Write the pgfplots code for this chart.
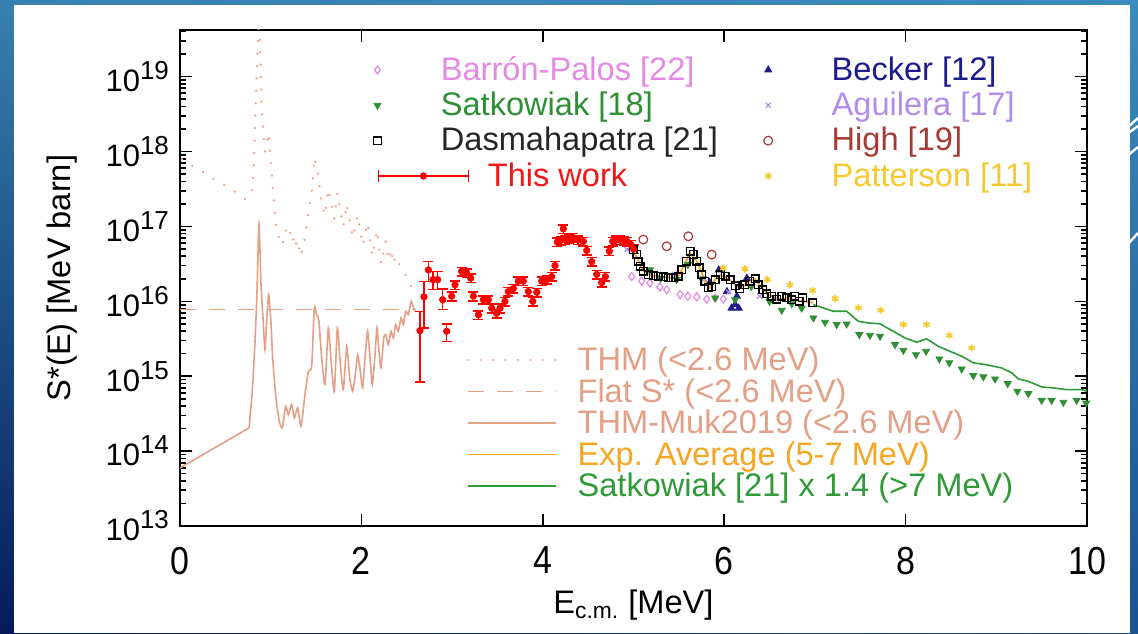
\documentclass[border=0pt]{standalone}
\usepackage{fontspec}
\setmainfont{Liberation Sans}
\usepackage{pgfplots}
\usepackage{pgfplotstable}
\usetikzlibrary{shadings}
\pgfplotsset{compat=1.18}

\definecolor{bgUL}{HTML}{3780B2}
\definecolor{bgUR}{HTML}{3A8CBC}
\definecolor{bgLL}{HTML}{051A5C}
\definecolor{bgLR}{HTML}{1A5294}
\definecolor{cSalmon}{HTML}{E4A087}
\definecolor{cSalmonDot}{HTML}{EBA68C}
\definecolor{cOrange}{HTML}{F6A623}
\definecolor{cGreen}{HTML}{2F9A38}
\definecolor{cBarron}{HTML}{E48AE6}
\definecolor{cSat}{HTML}{2E8F35}
\definecolor{cBecker}{HTML}{1C1C8A}
\definecolor{cAgu}{HTML}{B38CEB}
\definecolor{cHigh}{HTML}{A83A34}
\definecolor{cPat}{HTML}{F6C92E}
\definecolor{cRed}{HTML}{F01818}

\newcommand{\ep}[1]{10\raisebox{6pt}{\fontsize{13}{13}\selectfont #1}}
\newcommand{\xt}[1]{\scalebox{1}[1.15]{#1}}

% THM S-factor (dotted)
\pgfplotstableread{
E S
0.02 7.9e17
0.15 6.3e17
0.30 4.9e17
0.45 3.8e17
0.60 2.95e17
0.724 2.29e17
0.79 2.95e17
0.81 4.9e17
0.827 2.29e18
0.845 1.07e19
0.864 3.63e19
0.873 7.9e19
0.882 2.69e19
0.90 3.8e18
0.915 2.0e18
0.937 1.0e18
0.96 1.41e18
0.978 1.78e18
1.00 7.9e17
1.03 2.5e17
1.06 1.0e17
1.10 6.3e16
1.128 5.6e16
1.165 8.9e16
1.194 7.1e16
1.231 8.9e16
1.261 5.25e16
1.297 6.6e16
1.334 4.0e16
1.378 7.1e16
1.415 1.58e17
1.452 2.8e17
1.481 8.3e17
1.507 6.3e17
1.532 4.0e17
1.562 2.0e17
1.599 1.41e17
1.635 3.16e17
1.702 1.26e17
1.735 2.8e17
1.801 1.0e17
1.838 2.0e17
1.904 7.1e16
1.959 1.41e17
2.014 5.6e16
2.069 1.12e17
2.121 4.0e16
2.172 8.9e16
2.216 3.16e16
2.268 6.3e16
2.297 3.55e16
2.326 5.0e16
2.352 3.16e16
2.378 4.0e16
2.437 2.8e16
2.488 2.24e16
2.547 1.58e16
2.591 1.26e16
}\thm

% THM-Muk2019: low-energy straight segment
\pgfplotstableread{
E S
0 5.96e13
0.761 2.04e14
}\mukA

% THM-Muk2019: resonance region
\pgfplotstableread{
E S
0.761 2.04e14
0.797 6.3e14
0.827 2.92e15
0.849 1.36e16
0.871 1.08e17
0.893 1.67e16
0.915 6.0e15
0.937 2.26e15
0.959 6.64e15
0.978 1.23e16
1.000 6.0e15
1.022 1.75e15
1.058 5.13e14
1.095 2.5e14
1.128 2.04e14
1.165 3.97e14
1.194 3.07e14
1.231 4.18e14
1.261 2.77e14
1.297 3.77e14
1.334 2.14e14
1.378 5.68e14
1.415 1.16e15
1.452 1.36e15
1.481 8.15e15
1.507 6.64e15
1.532 5.41e15
1.562 1.75e15
1.599 7.73e14
1.635 4.41e15
1.672 1.29e15
1.702 6.3e14
1.735 4.41e15
1.768 1.43e15
1.801 6.62e14
1.838 2.51e15
1.871 9.48e14
1.904 6.3e14
1.937 1.16e15
1.959 1.94e15
1.988 1.16e15
2.014 6.97e14
2.040 1.75e15
2.069 3.98e15
2.098 1.58e15
2.121 7.73e14
2.150 1.94e15
2.172 4.41e15
2.194 2.15e15
2.216 1.29e15
2.246 3.24e15
2.268 3.59e15
2.297 2.64e15
2.326 3.98e15
2.352 3.24e15
2.378 4.89e15
2.407 3.98e15
2.437 6.0e15
2.462 4.89e15
2.488 7.36e15
2.517 6.64e15
2.547 1.0e16
2.569 8.57e15
2.591 7.36e15
}\mukB

% Exp. average, 5-7 MeV
\pgfplotstableread{
E S
5.00 4.6e16
5.05 3.6e16
5.10 2.6e16
5.20 2.2e16
5.30 2.12e16
5.45 2.05e16
5.50 2.2e16
5.58 3.4e16
5.62 4.5e16
5.70 3.4e16
5.79 1.85e16
5.84 1.52e16
5.90 1.95e16
5.96 2.25e16
6.06 1.95e16
6.17 1.48e16
6.28 1.85e16
6.34 1.98e16
6.47 1.27e16
6.58 1.08e16
6.70 1.10e16
6.83 1.02e16
6.98 9.6e15
}\expavg

% Satkowiak x 1.4
\pgfplotstableread{
E S
6.983 9.04e15
7.203 7.36e15
7.350 7.36e15
7.479 5.41e15
7.589 5.14e15
7.718 5.01e15
7.864 3.98e15
7.993 3.24e15
8.122 2.84e15
8.232 3.15e15
8.360 2.51e15
8.490 2.15e15
8.618 1.85e15
8.746 1.51e15
8.894 1.42e15
9.059 1.29e15
9.170 1.11e15
9.243 9.2e14
9.353 8.55e14
9.500 7.19e14
9.628 6.98e14
9.776 6.62e14
9.942 6.62e14
10.00 6.3e14
}\satline

\pgfplotstableread{
E S
4.98 2.14e16
5.09 1.86e16
5.18 1.76e16
5.29 1.55e16
5.366 1.43e16
5.513 1.23e16
5.60 1.17e16
5.697 1.15e16
5.807 1.07e16
5.90 1.11e16
5.99 1.07e16
}\barron

\pgfplotstableread{
E S
5.84 1.78e16
5.94 2.63e16
6.03 1.35e16
6.08 8.1e15
6.12 9.1e15
6.14 1.17e16
6.16 8.1e15
6.25 2.04e16
}\becker

\pgfplotstableread{
E S
5.18 2.63e16
5.30 2.04e16
5.476 1.95e16
5.60 3.09e16
5.75 2.0e16
5.90 1.11e16
6.12 1.05e16
6.30 1.58e16
6.50 1.0e16
6.634 7.6e15
6.744 9.3e15
6.854 8.1e15
6.983 6.0e15
7.111 5.25e15
7.240 4.9e15
7.350 4.99e15
7.490 3.59e15
7.607 3.52e15
7.718 3.41e15
7.883 2.64e15
7.975 2.22e15
8.115 1.94e15
8.225 2.15e15
8.372 1.70e15
8.482 1.51e15
8.618 1.25e15
8.746 1.02e15
8.857 9.8e14
8.986 9.2e14
9.125 7.96e14
9.232 6.3e14
9.353 5.86e14
9.500 4.76e14
9.610 4.76e14
9.739 4.49e14
9.886 4.76e14
9.990 4.37e14
}\satk

\pgfplotstableread{
E S
4.93 4.9e16
5.45 2.3e16
5.78 2.0e16
6.05 1.32e16
6.39 1.17e16
6.55 1.12e16
}\aguilera

\pgfplotstableread{
E S
4.998 4.9e16
5.035 4.21e16
5.053 3.42e16
5.072 2.93e16
5.108 2.51e16
5.163 2.27e16
5.218 2.20e16
5.273 2.16e16
5.329 2.12e16
5.384 2.05e16
5.439 2.05e16
5.494 2.16e16
5.531 2.63e16
5.579 3.42e16
5.623 4.66e16
5.660 4.21e16
5.697 3.42e16
5.726 2.79e16
5.752 2.27e16
5.788 1.85e16
5.825 1.51e16
5.862 1.56e16
5.899 1.95e16
5.954 2.27e16
6.009 2.16e16
6.064 1.95e16
6.119 1.62e16
6.174 1.47e16
6.229 1.67e16
6.284 1.85e16
6.340 2.0e16
6.376 1.67e16
6.424 1.43e16
6.468 1.26e16
6.524 1.17e16
6.579 1.07e16
6.634 1.17e16
6.689 1.11e16
6.744 1.05e16
6.780 1.17e16
6.828 1.0e16
6.863 1.11e16
6.975 9.5e15
}\dasma

\pgfplotstableread{
E S
5.108 6.67e16
5.366 5.43e16
5.604 7.38e16
5.862 4.21e16
}\high

\pgfplotstableread{
E S
5.99 2.79e16
6.229 2.7e16
6.475 1.95e16
6.725 1.66e16
6.975 1.40e16
7.222 1.09e16
7.479 8.2e15
7.725 7.6e15
7.975 4.9e15
8.232 4.9e15
8.482 3.52e15
8.728 2.39e15
}\patterson

% This work: points with small uncertainties
\pgfplotstableread{
E S
2.995 1.17e16
3.032 1.66e16
3.105 2.51e16
3.160 2.40e16
3.205 2.04e16
3.234 1.17e16
3.290 6.6e15
3.345 1.05e16
3.400 1.05e16
3.437 8.1e15
3.490 6.9e15
3.528 8.1e15
3.583 1.0e16
3.620 1.35e16
3.675 1.48e16
3.730 1.86e16
3.785 1.86e16
3.840 1.35e16
3.889 1.0e16
3.933 1.32e16
3.988 1.86e16
4.043 1.95e16
4.098 2.14e16
4.135 3.0e16
4.160 6.2e16
4.200 6.5e16
4.226 9.3e16
4.250 6.6e16
4.290 6.9e16
4.336 7.1e16
4.390 6.6e16
4.447 6.3e16
4.484 4.79e16
4.539 3.39e16
4.594 2.29e16
4.649 1.78e16
4.690 2.14e16
4.733 4.68e16
4.770 6.3e16
4.810 6.6e16
4.850 6.6e16
4.890 6.46e16
4.930 6.3e16
4.970 5.75e16
5.000 5.0e16
}\redA

% This work: points with large uncertainties
\pgfplotstableread{
E S ep em
2.646 4.06e15 3.29e15 3.22e15
2.690 1.15e16 7.0e15 7.08e15
2.738 2.63e16 7.9e15 7.8e15
2.790 1.95e16 5.6e15 5.2e15
2.840 1.95e16 5.6e15 5.2e15
2.896 1.05e16 4.2e15 2.7e15
2.940 3.98e15 1.0e15 1.06e15
}\redB

\begin{document}
\begin{tikzpicture}
\useasboundingbox (0pt,0pt) rectangle (569pt,316.5pt);
\begin{scope}[x=0.5pt,y=0.5pt]
\shade[upper left=bgUL, upper right=bgUR, lower left=bgLL, lower right=bgLR] (0,0) rectangle (1138,633);
\fill[white] (14,0) rectangle (1130,628);
\draw[white, line width=1.2pt] (1127,505) -- (1138,515);
\draw[white, line width=1.2pt] (1127,499) -- (1138,507);
\draw[white, line width=1.2pt] (1127,477) -- (1138,486);
\draw[white, line width=1.2pt] (1127,388) -- (1138,400);
\end{scope}

\begin{axis}[
  at={(90pt,53.5pt)}, anchor=south west,
  width=453.5pt, height=248pt, scale only axis,
  xmin=0, xmax=10, ymin=1e13, ymax=4.2e19, ymode=log,
  xtick={0,2,4,6,8,10}, xticklabels={\xt{0},\xt{2},\xt{4},\xt{6},\xt{8},\xt{10}},
  ytick={1e13,1e14,1e15,1e16,1e17,1e18,1e19},
  yticklabels={\ep{13},\ep{14},\ep{15},\ep{16},\ep{17},\ep{18},\ep{19}},
  minor ytick={2e13,3e13,4e13,5e13,6e13,7e13,8e13,9e13,
    2e14,3e14,4e14,5e14,6e14,7e14,8e14,9e14,
    2e15,3e15,4e15,5e15,6e15,7e15,8e15,9e15,
    2e16,3e16,4e16,5e16,6e16,7e16,8e16,9e16,
    2e17,3e17,4e17,5e17,6e17,7e17,8e17,9e17,
    2e18,3e18,4e18,5e18,6e18,7e18,8e18,9e18,
    2e19,3e19,4e19},
  minor xtick={},
  tick align=inside, tick pos=both,
  major tick length=6pt, minor tick length=3pt,
  tick style={black, line width=0.8pt},
  axis line style={line width=1pt},
  xticklabel style={font=\fontsize{17}{17}\selectfont, yshift=-7pt},
  yticklabel style={font=\fontsize{15.5}{15.5}\selectfont, xshift=-2pt},
  xlabel={E\textsubscript{c.m.} [MeV]},
  ylabel={S*(E) [MeV barn]},
  every axis x label/.style={at={(axis description cs:0.5,-0.16)}, anchor=center,
    font=\fontsize{16.3}{16}\selectfont},
  every axis y label/.style={at={(axis description cs:-0.130,0.5)}, rotate=90, anchor=center,
    font=\fontsize{16.3}{16}\selectfont},
  legend style={draw=none, fill=none, at={(0.3164,0.3664)}, anchor=north west,
    inner sep=0pt, outer sep=0pt, row sep=0pt, column sep=0pt,
    font=\fontsize{16.3}{16}\selectfont,
    nodes={inner sep=0pt, text height=13.2pt, text depth=2.55pt}},
  legend cell align=left,
  legend image code/.code={\draw[#1] (0pt,0pt) -- (44pt,0pt); \path (54pt,0pt);},
]
\addplot[cSalmonDot, line width=1.3pt, line cap=round, dash pattern=on 0.01pt off 6.2pt] table[x=E,y=S] {\thm};
\addlegendentry{\textcolor{cSalmon}{THM (<2.6 MeV)}}
\addplot[cSalmon, line width=0.8pt, dash pattern=on 8pt off 6.5pt] coordinates {(0,7.75e15) (2.6,7.75e15)};
\addlegendentry{\textcolor{cSalmon}{Flat S* (<2.6 MeV)}}
\addplot[cSalmon, line width=0.8pt, forget plot] table[x=E,y=S] {\mukA};
\addplot[cSalmon, line width=0.8pt, smooth, tension=0.35] table[x=E,y=S] {\mukB};
\addlegendentry{\textcolor{cSalmon}{THM-Muk2019 (<2.6 MeV)}}
\addplot[cOrange, line width=0.9pt] table[x=E,y=S] {\expavg};
\addlegendentry{\textcolor{cOrange}{Exp. Average (5-7 MeV)}}
\addplot[cGreen, line width=0.8pt] table[x=E,y=S] {\satline};
\addlegendentry{\textcolor{cGreen}{Satkowiak [21] x 1.4 (>7 MeV)}}
\end{axis}

\begin{axis}[
  at={(90pt,53.5pt)}, anchor=south west,
  width=453.5pt, height=248pt, scale only axis,
  xmin=0, xmax=10, ymin=1e13, ymax=4.2e19, ymode=log,
  hide axis,
  legend columns=2,
  legend style={draw=none, fill=none, at={(0.1996,0.955)}, anchor=north west,
    inner sep=0pt, outer sep=0pt, row sep=0pt, column sep=0pt,
    font=\fontsize{16.3}{16}\selectfont,
    nodes={inner sep=0pt, text height=14pt, text depth=3.67pt}},
  legend cell align=left,
  legend image code/.code={\path (-8pt,0pt) (31.5pt,0pt); \draw[mark repeat=1,#1] plot coordinates {(0pt,0pt)};},
]
\addplot[only marks, mark=diamond, mark size=2.0pt, cBarron, mark options={line width=0.6pt}] table[x=E,y=S] {\barron};
\addlegendentry{\makebox[155.5pt][l]{\textcolor{cBarron}{Barrón-Palos [22]}}}
\addplot[only marks, mark=triangle*, mark size=2.0pt, cBecker] table[x=E,y=S] {\becker};
\addlegendentry{\textcolor{cBecker}{Becker [12]}}
\addplot[only marks, mark=triangle*, mark size=2.0pt, cSat, mark options={rotate=180}] table[x=E,y=S] {\satk};
\addlegendentry{\makebox[155.5pt][l]{\textcolor{cSat}{Satkowiak [18]}}}
\addplot[only marks, mark=x, mark size=1.8pt, cAgu, mark options={line width=0.6pt}] table[x=E,y=S] {\aguilera};
\addlegendentry{\textcolor{cAgu}{Aguilera [17]}}
\addplot[only marks, mark=square, mark size=1.9pt, black, mark options={line width=0.7pt}] table[x=E,y=S] {\dasma};
\addlegendentry{\makebox[155.5pt][l]{\textcolor{black!85}{Dasmahapatra [21]}}}
\addplot[only marks, mark=o, mark size=2.2pt, cHigh, mark options={line width=0.6pt}] table[x=E,y=S] {\high};
\addlegendentry{\textcolor{cHigh}{High [19]}}
\addplot[only marks, mark=*, mark size=1.6pt, red,
  legend image code/.code={\path (-8pt,0pt) (31.5pt,0pt);
    \draw[overlay, red, line width=0.8pt] (0.5pt,0pt) -- (45.5pt,0pt)
      (0.5pt,-3pt) -- (0.5pt,3pt) (45.5pt,-3pt) -- (45.5pt,3pt);
    \fill[overlay, red] (23pt,0pt) circle (1.6pt);},
  error bars/.cd, y dir=both, y fixed relative=0.13,
  error bar style={line width=0.8pt, red},
  error mark options={rotate=90, mark size=2.5pt, line width=0.8pt, red}]
  table[x=E,y=S] {\redA};
\addlegendentry{\makebox[155.5pt][l]{\hspace{23.5pt}\textcolor{cRed}{This work}}}
\addplot[only marks, mark=asterisk, mark size=1.8pt, cPat, mark options={line width=0.8pt}] table[x=E,y=S] {\patterson};
\addlegendentry{\textcolor{cPat}{Patterson [11]}}
\addplot[forget plot, only marks, mark=*, mark size=1.6pt, red,
  error bars/.cd, y dir=both, y explicit,
  error bar style={line width=0.8pt, red},
  error mark options={rotate=90, mark size=2.5pt, line width=0.8pt, red}]
  table[x=E,y=S,y error plus=ep,y error minus=em] {\redB};
\end{axis}
\end{tikzpicture}
\end{document}
